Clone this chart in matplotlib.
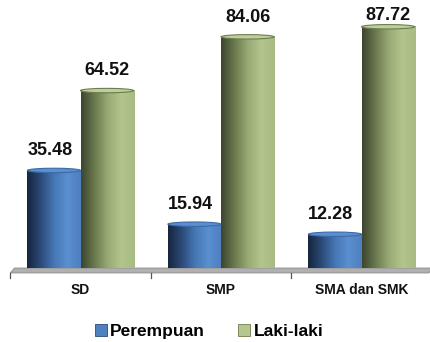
import numpy as np
import matplotlib
matplotlib.use('Agg')
import matplotlib.pyplot as plt
from matplotlib.colors import LinearSegmentedColormap
from matplotlib.patches import Ellipse, Polygon, Patch

categories = ['SD', 'SMP', 'SMA dan SMK']
perempuan = [35.48, 15.94, 12.28]
laki = [64.52, 84.06, 87.72]
series_names = ['Perempuan', 'Laki-laki']

plt.rcParams['font.family'] = ['Liberation Sans', 'DejaVu Sans']

blue_cm = LinearSegmentedColormap.from_list(
    'b', ['#16263f', '#2c4a78', '#4676b4', '#5a8fd0', '#4f80c0'])
green_cm = LinearSegmentedColormap.from_list(
    'g', ['#3d4630', '#6b7a4f', '#98aa74', '#b2c58c', '#a8bb83'])

fig = plt.figure(figsize=(4.3, 3.42), dpi=100)
ax = fig.add_axes([0, 0, 1, 1])
ax.axis('off')

w = 0.378
grad = np.linspace(0, 1, 64).reshape(1, -1)


def cylinder(xc, h, cm, top_col, edge_col):
    x0, x1 = xc - w / 2, xc + w / 2
    ax.imshow(grad, cmap=cm, extent=(x0, x1, 0, h), aspect='auto',
              interpolation='bilinear', zorder=2)
    ax.add_patch(Ellipse((xc, h), w, 1.6, facecolor=top_col,
                         edgecolor=edge_col, linewidth=0.8, zorder=3))


# floor
ax.add_patch(Polygon([(-0.47, 0), (2.5, 0), (2.48, -1.8), (-0.5, -1.8)],
                     closed=True, facecolor='#b0b0b0', edgecolor='#8c8c8c',
                     linewidth=0.6, zorder=1))
for xd in [-0.5, 0.5, 1.5, 2.5]:
    ax.plot([xd, xd], [-1.8, -3.6], color='#555555', linewidth=0.9, zorder=1)

for i, cat in enumerate(categories):
    xb = i - w / 2
    xg = i + w / 2
    cylinder(xb, perempuan[i], blue_cm, '#5b8fd0', '#3a6aa8')
    cylinder(xg, laki[i], green_cm, '#bfcf9c', '#6e7d50')
    ax.text(xb - 0.03, min(perempuan[i] + 5.5, 90.2), f'{perempuan[i]:.2f}',
            ha='center', va='baseline', fontsize=13, fontweight='bold', color='#111111')
    ax.text(xg, min(laki[i] + 5.5, 90.2), f'{laki[i]:.2f}',
            ha='center', va='baseline', fontsize=13, fontweight='bold', color='#111111')
    ax.text(i, -8, cat, ha='center', va='center', fontsize=10,
            fontweight='bold', color='#111111')

ax.set_xlim(-0.573, 2.4875)
ax.set_ylim(-26.9, 97.45)

handles = [Patch(facecolor='#4f80c0', edgecolor='#2c4a78', linewidth=0.6),
           Patch(facecolor='#b5c78f', edgecolor='#6e7d50', linewidth=0.6)]
leg = ax.legend(handles, series_names, loc='center', bbox_to_anchor=(0.486, 0.03),
                ncol=2, frameon=False, handlelength=0.7, handleheight=0.7,
                handletextpad=0.2, columnspacing=1.9,
                prop={'weight': 'bold', 'size': 12.5})

fig.savefig('out.png', dpi=100)
